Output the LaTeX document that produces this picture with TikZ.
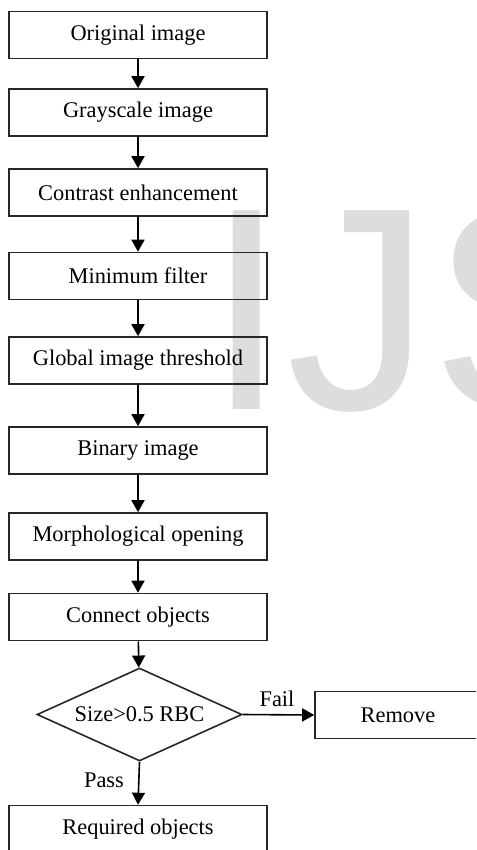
\documentclass[tikz,border=0pt]{standalone}
\usepackage{fontspec}
\setmainfont{Liberation Serif}
\newfontfamily\markfont{Liberation Sans}
\usetikzlibrary{shapes.geometric,arrows.meta}
\definecolor{markgray}{RGB}{221,221,221}
\begin{document}
\begin{tikzpicture}[x=0.5pt,y=-0.5pt,
	stepbox/.style={draw=black!85,line width=0.8pt,minimum width=129pt,minimum height=23.5pt,inner sep=0pt,font=\fontsize{11.2}{13}\selectfont},
	testbox/.style={draw=black!85,line width=0.8pt,shape=diamond,shape aspect=2.2,minimum width=102.5pt,minimum height=46.5pt,inner sep=0pt,font=\fontsize{11.2}{13}\selectfont},
	flow/.style={line width=0.8pt,-{Triangle[length=6pt,width=6.5pt]}},
	lbl/.style={inner sep=0pt,font=\fontsize{11.2}{13}\selectfont}]
	\useasboundingbox (0,0) rectangle (476,850);
	\clip (0,0) rectangle (476,850);
	% watermark
	\node[anchor=base west,inner sep=0pt,text=markgray,font=\markfont\fontsize{144.5}{150}\selectfont] (mark) at (206,409) {IJS};
	% steps
	\node[stepbox] (orig) at (138,35) {Original image};
	\node[stepbox] (gray) at (138,112.5) {Grayscale image};
	\node[stepbox] (contrast) at (138,192.5) {Contrast enhancement};
	\node[stepbox] (minfilt) at (138,276) {Minimum filter};
	\node[stepbox] (thresh) at (138,360.5) {Global image threshold};
	\node[stepbox] (binary) at (138,450.5) {Binary image};
	\node[stepbox] (opening) at (138,536.5) {Morphological opening};
	\node[stepbox] (connect) at (138,617) {Connect objects};
	\node[testbox] (size) at (139.5,714.5) {Size>0.5 RBC};
	\node[stepbox,minimum width=83pt] (remove) at (398,715) {Remove};
	\node[stepbox] (required) at (138,829) {Required objects};
	\foreach \a/\b in {orig/gray,gray/contrast,contrast/minfilt,minfilt/thresh,thresh/binary,binary/opening,opening/connect,connect/size}
	\draw[flow] (\a) -- (\b);
	\draw[flow] (size.east) -- (remove.west);
	\draw[flow] (size.south) -- (required.north);
	\node[lbl] (fail) at (277,699) {Fail};
	\node[lbl] (pass) at (104,780) {Pass};
\end{tikzpicture}
\end{document}
